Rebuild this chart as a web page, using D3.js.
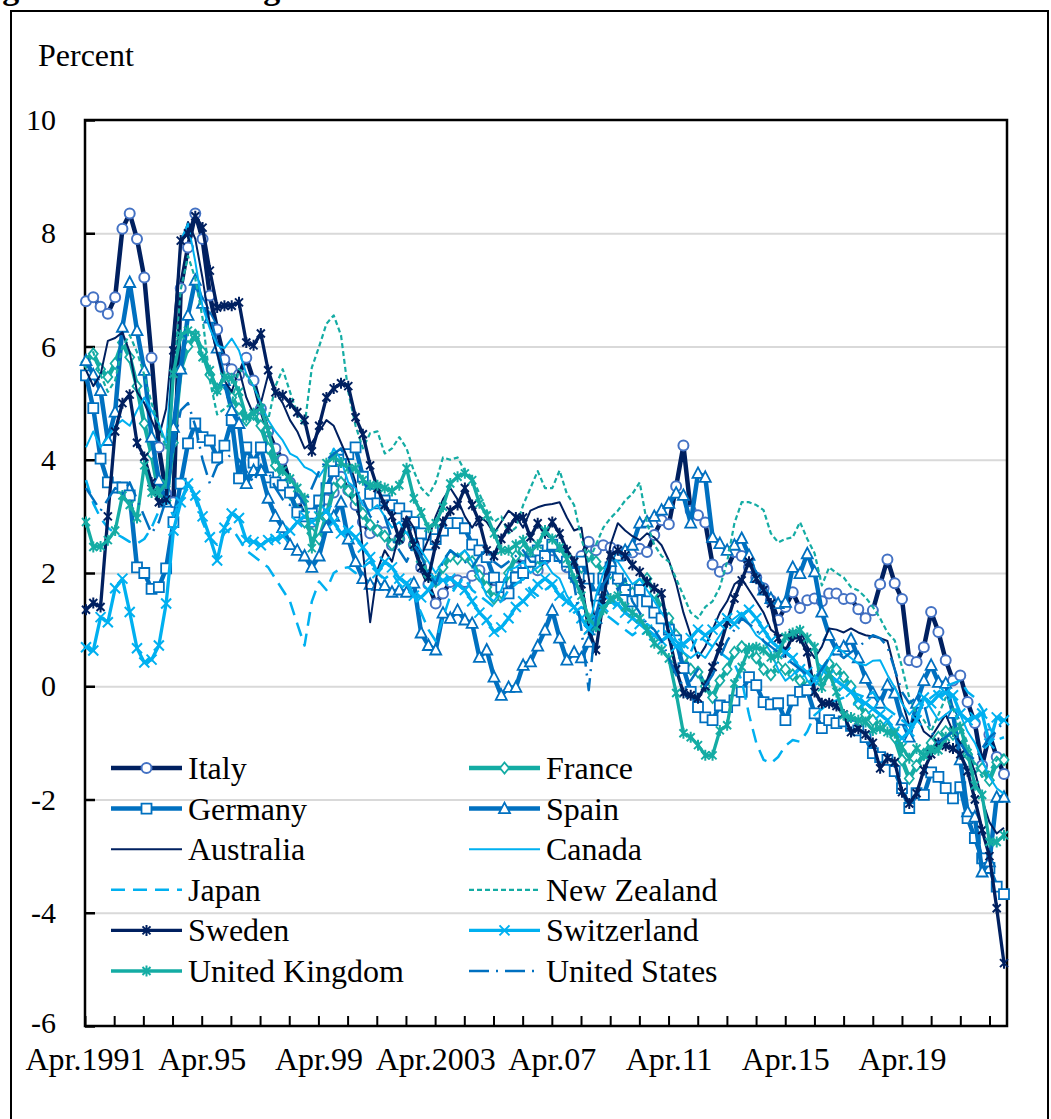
<!DOCTYPE html>
<html>
<head>
<meta charset="utf-8">
<script src="https://cdn.jsdelivr.net/npm/d3@7"></script>
<style>
body{margin:0;background:#fff;}
text{font-family:"Liberation Serif","Times New Roman",serif;fill:#000;}
</style>
</head>
<body>
<div id="chart"></div>
<script>
// quarterly, Apr.1991 (Q2) .. 2022 Q4
var tickLabels=["Apr.1991","Apr.95","Apr.99","Apr.2003","Apr.07","Apr.11","Apr.15","Apr.19"];
var yTicks=[10,8,6,4,2,0,-2,-4,-6];

var italy=[6.80,6.87,6.70,6.58,6.87,8.08,8.35,7.90,7.22,5.80,
4.22,3.40,3.25,7.03,7.75,8.35,7.90,6.90,6.30,5.77,
5.60,5.50,5.80,5.40,4.90,4.50,4.20,4.00,3.60,3.30,
3.00,2.90,3.10,3.30,3.42,3.70,3.46,3.20,2.90,2.70,
2.75,2.72,2.49,2.60,2.80,2.50,2.10,1.80,1.46,1.64,
1.84,1.87,1.84,1.95,2.05,1.90,1.70,1.60,1.85,2.10,
2.30,2.20,2.05,2.25,2.40,2.30,2.10,2.00,2.30,2.55,
2.40,2.49,2.45,2.40,2.36,2.36,2.43,2.37,2.67,2.93,
2.86,3.53,4.25,3.10,3.02,2.89,2.15,2.02,2.08,2.37,
2.30,2.10,1.92,1.73,1.52,1.17,1.40,1.66,1.38,1.52,
1.55,1.50,1.64,1.64,1.54,1.55,1.36,1.20,1.34,1.80,
2.24,1.82,1.54,0.46,0.43,0.69,1.31,0.96,0.46,0.10,
0.19,-0.28,-0.65,-1.40,-0.85,-1.25,-1.55];

var france=[5.72,5.87,5.60,5.46,5.70,6.07,5.81,5.30,4.64,4.10,
3.42,3.28,4.30,5.60,6.00,6.20,5.90,5.50,5.25,5.35,
5.10,4.90,4.70,4.80,4.60,4.20,3.90,3.70,3.40,3.10,
2.90,2.70,2.60,3.00,3.50,3.60,3.45,3.30,3.05,2.85,
2.75,2.65,2.50,2.60,2.80,2.50,2.20,1.95,1.85,2.10,
2.30,2.25,2.30,2.20,1.95,1.75,1.55,1.65,2.00,2.30,
2.40,2.20,2.10,2.30,2.50,2.40,2.20,2.00,2.10,2.30,
2.20,2.00,2.00,1.85,1.75,1.65,1.80,1.90,1.65,1.35,
1.20,0.90,0.50,0.30,0.25,0.00,-0.20,0.10,0.30,0.60,
0.70,0.60,0.50,0.30,0.20,0.34,0.30,0.20,0.10,0.00,
0.10,0.20,0.40,0.30,0.16,0.00,-0.30,-0.50,-0.60,-0.70,
-0.75,-0.90,-1.30,-1.63,-1.40,-1.20,-1.00,-0.90,-0.80,-0.85,
-0.90,-1.20,-1.45,-1.45,-1.66,-1.34,-1.30];

var germany=[5.49,4.91,4.02,3.60,3.51,3.51,3.37,2.10,2.00,1.72,
1.75,2.08,2.90,3.58,4.29,4.64,4.40,4.34,4.04,4.25,
4.70,3.67,4.22,3.95,4.22,3.69,3.60,3.55,3.42,3.07,
3.00,3.05,3.28,3.50,3.80,4.00,4.10,4.22,3.70,3.40,
3.23,3.28,3.20,3.14,3.00,2.90,2.70,2.50,2.60,2.75,
2.88,2.88,2.79,2.50,2.40,2.28,1.92,1.75,1.64,1.92,
2.00,2.20,2.40,2.30,2.50,2.30,2.20,2.00,2.20,1.90,
1.60,1.90,2.10,1.90,1.70,1.50,1.70,1.50,1.30,1.20,
1.00,0.81,0.32,-0.10,-0.37,-0.55,-0.60,-0.34,-0.37,-0.25,
-0.10,0.16,0.02,-0.28,-0.32,-0.30,-0.60,-0.25,-0.10,-0.07,
-0.48,-0.74,-0.60,-0.65,-0.62,-0.70,-0.78,-0.90,-1.18,-1.25,
-1.30,-1.50,-1.80,-2.15,-1.89,-1.92,-1.52,-1.60,-1.80,-1.98,
-1.78,-2.33,-2.68,-3.04,-3.21,-3.54,-3.67];

var spain=[5.75,5.50,5.22,4.34,4.84,6.34,7.13,6.28,5.58,4.40,
3.64,3.25,4.57,5.60,6.55,7.17,6.76,6.50,5.97,5.40,
4.87,4.64,3.58,3.81,3.81,3.32,3.00,2.80,2.50,2.40,
2.30,2.10,2.30,2.80,3.00,3.25,2.60,2.20,1.90,1.80,
1.78,1.78,1.66,1.70,1.66,1.82,0.94,0.72,0.64,1.29,
1.20,1.34,1.17,1.11,0.51,0.64,0.16,-0.16,-0.02,-0.02,
0.37,0.43,0.71,0.99,1.34,0.85,0.46,0.60,0.50,0.78,
1.20,1.70,2.20,2.30,2.40,2.49,2.88,2.90,3.00,3.11,
3.23,3.41,3.37,2.88,3.76,3.69,2.63,2.52,2.40,2.49,
2.61,2.31,1.92,1.70,1.55,1.46,1.48,2.10,1.99,2.34,
2.02,1.31,0.90,0.64,0.70,0.83,0.50,0.14,-0.12,-0.30,
0.02,-0.12,-0.60,-0.90,-0.30,0.10,0.37,0.07,0.05,-0.48,
-1.30,-2.22,-2.31,-3.28,-3.10,-1.96,-1.96];

var australia=[5.58,5.30,5.50,6.10,6.15,6.25,5.90,5.20,5.00,4.70,
4.40,4.90,6.30,7.75,8.20,7.90,7.20,6.40,5.88,5.40,
5.20,5.60,5.10,4.80,5.00,5.50,5.20,5.00,4.70,4.50,
4.20,4.30,4.50,4.70,4.60,4.30,4.00,3.60,2.40,1.13,
2.05,2.40,2.20,2.70,3.00,2.80,2.30,2.60,3.00,3.30,
3.50,3.30,3.00,2.80,3.00,2.90,2.70,2.90,3.10,3.00,
2.80,3.10,3.16,3.20,3.22,3.25,2.98,2.75,2.80,1.92,
1.00,1.80,2.50,2.88,2.75,2.65,2.58,2.70,2.63,2.49,
2.22,1.82,1.30,0.90,0.50,0.70,1.00,1.30,1.50,1.80,
1.90,1.70,1.50,1.30,1.00,0.90,0.90,0.80,1.00,0.70,
0.50,0.70,1.02,1.00,0.95,1.02,0.95,0.90,0.88,0.85,
0.80,0.30,-0.25,-0.70,-0.50,-0.80,-0.90,-0.70,-0.50,-0.80,
-1.00,-1.20,-1.50,-2.00,-2.40,-2.60,-2.50];

var canada=[4.22,4.50,4.22,4.40,4.60,4.70,4.60,4.87,5.10,4.87,
4.64,4.30,6.00,7.87,8.17,7.50,6.70,6.32,6.02,5.97,
6.14,5.93,5.52,5.30,5.00,4.70,4.50,4.34,4.11,4.04,
3.87,3.81,3.70,3.90,4.20,4.00,3.60,3.50,3.20,3.10,
3.20,3.00,2.80,2.90,2.70,2.60,2.40,2.20,2.00,2.20,
2.40,2.30,2.40,2.20,1.90,1.60,1.50,1.70,2.05,2.10,
2.20,2.00,2.10,2.20,2.00,1.90,1.60,1.40,1.20,1.00,
1.60,2.00,2.30,2.20,2.00,1.80,1.90,1.70,1.50,1.30,
1.10,0.80,0.60,0.50,0.60,0.50,0.70,0.90,1.10,1.20,
1.30,1.10,0.90,0.80,0.60,0.30,0.10,0.20,0.35,0.10,
0.00,0.20,0.50,0.70,0.60,0.50,0.40,0.37,0.45,0.46,
0.20,-0.02,-0.30,-0.50,-0.35,-0.20,-0.40,-0.60,-0.50,-0.40,
-0.50,-0.80,-1.00,-1.30,-1.60,-1.80,-1.90];

var japan=[3.64,3.23,2.97,2.80,2.70,2.63,2.55,2.52,2.60,2.80,
3.10,3.30,3.00,3.30,3.50,3.30,2.90,2.60,2.50,2.70,
2.80,2.60,2.40,2.30,2.20,2.10,1.90,1.70,1.50,1.10,
0.72,1.50,1.85,1.70,2.00,2.08,2.10,2.00,2.10,2.20,
2.00,1.90,2.00,1.80,1.70,1.60,1.30,1.00,0.80,1.20,
1.60,1.80,1.90,1.70,1.60,1.50,1.40,1.50,1.70,1.80,
1.90,1.70,1.60,1.70,1.80,1.70,1.50,1.30,1.40,1.30,
1.20,1.30,1.20,1.10,1.00,0.90,1.00,1.10,1.00,0.80,
0.90,0.80,0.70,0.60,0.90,0.80,0.70,0.60,0.50,0.40,
0.10,-0.50,-1.00,-1.30,-1.36,-1.25,-1.05,-0.95,-0.98,-0.80,
-0.51,-0.40,-0.30,-0.25,-0.20,-0.10,-0.15,-0.20,-0.10,-0.30,
-0.40,-0.50,-0.60,-0.70,-0.50,-0.30,-0.20,-0.10,0.00,0.05,
0.10,-0.10,-0.20,-0.40,-0.72,-0.95,-0.90];

var newZealand=[5.80,5.90,5.50,5.20,5.40,6.00,6.20,5.90,5.50,5.00,
4.60,4.20,5.50,7.00,7.60,7.20,6.50,5.40,4.80,4.90,
5.00,5.60,5.50,5.30,5.00,4.70,5.30,5.60,5.20,4.80,
4.60,5.63,6.00,6.40,6.55,6.20,5.20,4.60,4.20,4.47,
4.50,4.11,4.20,4.40,4.20,3.80,3.50,3.37,3.60,4.04,
4.00,4.04,3.80,3.69,3.40,3.10,2.90,3.00,2.70,2.80,
3.20,3.50,3.80,3.50,3.50,3.81,3.40,3.20,2.60,2.20,
2.50,2.80,2.97,3.10,3.28,3.40,3.60,2.88,2.50,2.30,
2.20,1.90,1.60,1.30,1.20,1.40,1.50,1.75,2.20,2.88,
3.25,3.25,3.20,3.11,2.70,2.54,2.60,2.63,2.90,2.60,
2.35,1.78,2.10,2.00,1.92,1.75,1.69,1.57,1.40,1.20,
0.95,0.81,0.34,-0.20,-0.50,-0.60,-0.80,-0.50,-0.20,-0.40,
-0.70,-1.00,-1.40,-1.60,-1.50,-1.30,-1.20];

var sweden=[1.35,1.47,1.40,3.00,4.50,5.00,5.15,4.30,4.05,3.60,
3.25,3.30,5.93,7.87,8.00,8.30,8.10,7.34,6.69,6.72,
6.72,6.78,6.07,6.02,6.23,5.58,5.19,5.14,5.00,4.84,
4.70,4.15,4.60,5.10,5.26,5.35,5.30,4.75,4.45,3.90,
3.50,3.20,3.00,2.60,2.90,2.50,2.10,1.92,2.50,2.90,
3.10,3.20,3.50,3.20,2.90,2.40,2.30,2.60,2.80,2.98,
2.98,2.63,2.88,2.70,2.90,2.70,2.40,2.20,1.80,1.00,
0.64,1.50,2.31,2.40,2.31,2.14,2.02,1.84,1.73,1.64,
0.90,0.30,-0.12,-0.16,-0.21,0.00,0.34,0.69,1.13,1.55,
1.87,2.20,1.90,1.70,1.46,0.85,0.60,0.90,0.85,0.60,
-0.10,-0.30,-0.30,-0.35,-0.50,-0.81,-0.75,-0.85,-1.00,-1.45,
-1.27,-1.34,-1.87,-2.07,-1.89,-1.48,-1.20,-1.00,-1.05,-1.10,
-1.20,-1.50,-2.00,-2.54,-3.00,-3.92,-4.89];

var switzerland=[0.69,0.63,1.22,1.13,1.73,1.90,1.31,0.67,0.42,0.47,
0.72,1.46,2.75,3.25,3.58,3.37,3.00,2.63,2.22,2.80,
3.05,2.97,2.58,2.55,2.49,2.58,2.60,2.65,2.75,2.90,
3.00,2.90,3.00,3.10,2.90,2.70,2.75,2.63,2.45,2.28,
2.00,2.20,2.10,1.90,1.82,1.60,1.57,1.70,1.90,1.87,
1.90,1.80,1.70,1.50,1.30,1.17,0.96,1.04,1.20,1.40,
1.50,1.64,1.80,1.90,1.80,1.60,1.50,1.40,1.20,1.00,
1.20,1.40,1.50,1.45,1.30,1.20,1.10,1.00,0.90,0.80,
0.90,0.70,0.75,0.85,1.00,0.90,1.00,1.10,1.20,1.10,
1.25,1.35,1.20,1.00,0.80,0.69,0.60,0.50,0.30,0.25,
0.10,0.34,0.20,0.10,0.00,-0.10,-0.25,-0.30,-0.40,-0.50,
-0.60,-0.80,-0.92,-0.80,-0.60,-0.20,-0.30,-0.16,-0.12,-0.16,
-0.48,-0.60,-0.55,-0.48,-1.01,-0.55,-0.60];

var uk=[2.90,2.46,2.47,2.58,2.75,3.37,3.20,2.97,3.90,3.42,
3.42,3.58,5.52,6.20,6.28,6.20,5.81,5.58,5.22,5.46,
5.44,5.20,4.75,4.82,4.91,4.52,4.02,3.81,3.67,3.50,
3.32,2.44,3.00,3.94,4.05,3.95,3.85,3.85,3.64,3.55,
3.55,3.50,3.45,3.55,3.85,3.32,3.07,2.80,2.88,3.17,
3.58,3.70,3.76,3.64,3.23,3.02,2.70,2.40,2.40,2.50,
2.58,2.37,2.50,2.75,2.60,2.45,2.25,1.90,1.60,1.20,
1.05,1.35,1.55,1.60,1.40,1.30,1.20,0.99,0.76,0.64,
0.49,-0.12,-0.83,-0.90,-1.04,-1.22,-1.22,-0.78,-0.69,0.05,
0.34,0.67,0.69,0.64,0.51,0.55,0.87,0.94,0.99,0.85,
0.69,-0.02,0.23,-0.10,-0.51,-0.55,-0.60,-0.63,-0.78,-0.74,
-0.81,-0.83,-1.08,-1.27,-1.10,-1.22,-1.13,-1.13,-0.90,-0.80,
-0.72,-1.18,-1.75,-1.92,-2.75,-2.75,-2.63];

var us=[3.50,3.30,3.10,3.30,3.50,3.40,3.60,3.30,3.00,2.70,
2.90,3.30,4.20,4.87,5.00,4.60,4.00,3.58,3.90,4.00,
4.10,4.00,3.80,3.60,3.90,3.80,3.50,3.30,3.20,3.40,
3.20,3.50,3.80,4.00,4.10,4.20,3.90,3.50,3.30,3.00,
2.90,3.00,2.60,2.40,2.20,2.50,2.30,2.00,1.80,2.20,
2.40,2.30,2.20,2.10,2.30,2.40,2.20,2.10,2.20,2.30,
2.40,2.20,2.20,2.30,2.40,2.20,2.00,1.80,1.00,-0.07,
1.20,1.80,2.00,1.70,1.90,1.50,1.30,1.10,1.00,0.80,
0.50,0.20,0.00,0.10,0.30,0.00,0.20,0.50,0.80,1.00,
1.20,1.10,1.00,0.80,0.70,0.60,0.50,0.40,0.30,0.20,
0.10,0.30,0.50,0.60,0.50,0.60,0.69,0.80,0.90,0.85,
0.70,0.30,-0.10,-0.30,-0.20,-0.30,-0.80,-1.00,-0.90,-0.80,
-1.00,-1.20,-1.30,-1.10,-0.90,-0.80,-0.60];

var navy="#002060", blue="#0070C0", sky="#00B0F0", teal="#14ACA4";

// order = excel series order (legend rows left/right)
var series=[
  {name:"Italy",data:italy,color:navy,width:4.5,marker:"circle",mcolor:"#4472C4"},
  {name:"France",data:france,color:teal,width:4.5,marker:"diamond",mcolor:teal},
  {name:"Germany",data:germany,color:blue,width:4.5,marker:"square",mcolor:blue},
  {name:"Spain",data:spain,color:blue,width:4.5,marker:"triangle",mcolor:blue},
  {name:"Australia",data:australia,color:navy,width:2},
  {name:"Canada",data:canada,color:sky,width:2},
  {name:"Japan",data:japan,color:sky,width:2.5,dash:"14,8"},
  {name:"New Zealand",data:newZealand,color:teal,width:2.2,dash:"5,3"},
  {name:"Sweden",data:sweden,color:navy,width:3.3,marker:"star",mcolor:navy},
  {name:"Switzerland",data:switzerland,color:sky,width:3.3,marker:"x",mcolor:sky},
  {name:"United Kingdom",data:uk,color:teal,width:3.3,marker:"star",mcolor:teal},
  {name:"United States",data:us,color:blue,width:2.5,dash:"20,7,2,7"}
];

var w=1051, h=1119;
var pl=85, pr=1007, pt=120, pb=1026;

var svg=d3.select("#chart").append("svg")
          .attr("width",w)
          .attr("height",h);

svg.append("rect").attr("width",w).attr("height",h).attr("fill","#fff");

// chart area frame (bottom runs off the picture)
svg.append("rect")
   .attr("x",11).attr("y",11)
   .attr("width",1037).attr("height",1130)
   .attr("fill","none").attr("stroke","#000").attr("stroke-width",2);

// title, cut off at the top like the source image
svg.append("text")
   .attr("x",-28).attr("y",-1)
   .style("font-size","34px").style("font-weight","bold")
   .text("Figure 13: Real Long-Term Interest Rates");

svg.append("text")
   .attr("x",38).attr("y",66)
   .style("font-size","32px")
   .text("Percent");

var x=d3.scaleLinear().domain([0,italy.length-1]).range([86,1004]);
var xAxisScale=d3.scaleLinear().domain([0,126.4]).range([pl,pr]);
var y=d3.scaleLinear().domain([-6,10]).range([pb,pt]);

// gridlines
svg.append("g")
   .attr("transform","translate("+pl+",0)")
   .call(d3.axisLeft(y).tickValues([8,6,4,2,0,-2,-4]).tickSize(-(pr-pl)).tickFormat(""))
   .call(function(g){
     g.select(".domain").remove();
     g.selectAll("line").attr("stroke","#d9d9d9").attr("stroke-width",2);
   });

// y axis with inside ticks
svg.append("g")
   .attr("transform","translate("+pl+",0)")
   .attr("font-family","'Liberation Serif',serif")
   .call(d3.axisLeft(y).tickValues(yTicks).tickSizeInner(-10).tickSizeOuter(0).tickPadding(29)
           .tickFormat(function(d){return String(d);}))
   .call(function(g){
     g.select(".domain").remove();
     g.selectAll("line").attr("stroke","#000").attr("stroke-width",2.5);
     g.selectAll("text").style("font-size","30px").attr("fill","#000");
     g.selectAll(".tick").filter(function(d){return d==-6;}).select("text").attr("dy","0.2em");
   });

// x axis: yearly ticks inside, labels every 4 years
var yearTicks=d3.range(0,127,4);
svg.append("g")
   .attr("transform","translate(0,"+pb+")")
   .call(d3.axisBottom(xAxisScale).tickValues(yearTicks).tickSizeInner(-10).tickSizeOuter(0).tickFormat(""))
   .call(function(g){
     g.select(".domain").remove();
     g.selectAll("line").attr("stroke","#000").attr("stroke-width",2);
   });

svg.append("g")
   .attr("transform","translate(0,"+pb+")")
   .attr("font-family","'Liberation Serif',serif")
   .call(d3.axisBottom(xAxisScale).tickValues(tickLabels.map(function(d,i){return i*16;}))
           .tickSize(0).tickFormat(function(d){return tickLabels[d/16];}))
   .call(function(g){
     g.select(".domain").remove();
     g.selectAll("text").attr("y",44).attr("dy",0)
      .style("font-size","32px").attr("fill","#000");
   });

// plot frame
svg.append("rect")
   .attr("x",pl).attr("y",pt)
   .attr("width",pr-pl).attr("height",pb-pt)
   .attr("fill","none").attr("stroke","#000").attr("stroke-width",2.5);

function markerPath(type){
  if(type=="square") return "M-5,-5H5V5H-5Z";
  if(type=="triangle") return "M0,-6L5.5,4.5L-5.5,4.5Z";
  if(type=="diamond") return "M0,-5.5L4.5,0L0,5.5L-4.5,0Z";
  if(type=="star") return "M-4,-4L4,4M-4,4L4,-4M0,-5.5V5.5";
  if(type=="x") return "M-5,-5L5,5M-5,5L5,-5";
  return "";
}

function drawMarker(g,type,color,cx,cy){
  if(type=="circle"){
    g.append("circle").attr("cx",cx).attr("cy",cy).attr("r",5)
     .attr("fill","#fff").attr("stroke",color).attr("stroke-width",2);
  } else {
    var filled=(type=="square"||type=="triangle"||type=="diamond");
    g.append("path").attr("d",markerPath(type))
     .attr("transform","translate("+cx+","+cy+")")
     .attr("fill",filled?"#fff":"none")
     .attr("stroke",color).attr("stroke-width",type=="x"||type=="star"?2:1.8);
  }
}

var line=d3.line()
           .x(function(d,i){return x(i);})
           .y(function(d){return y(d);});

var plot=svg.append("g");

series.forEach(function(s){
  var g=plot.append("g");
  g.append("path")
   .datum(s.data)
   .attr("d",line)
   .attr("fill","none")
   .attr("stroke",s.color)
   .attr("stroke-width",s.width)
   .attr("stroke-linejoin","round")
   .attr("stroke-dasharray",s.dash||null);
  if(s.marker){
    s.data.forEach(function(d,i){
      drawMarker(g,s.marker,s.mcolor,x(i),y(d));
    });
  }
});

// legend, two columns
var legend=svg.append("g");
series.forEach(function(s,i){
  var col=i%2, row=Math.floor(i/2);
  var lx=col==0?111:469, ly=768+row*40.6;
  legend.append("line")
        .attr("x1",lx).attr("x2",lx+71)
        .attr("y1",ly).attr("y2",ly)
        .attr("stroke",s.color).attr("stroke-width",s.width)
        .attr("stroke-dasharray",s.dash||null);
  if(s.marker) drawMarker(legend,s.marker,s.mcolor,lx+35.5,ly);
  legend.append("text")
        .attr("x",lx+77).attr("y",ly+11)
        .style("font-size","32px")
        .text(s.name);
});
</script>
</body>
</html>
